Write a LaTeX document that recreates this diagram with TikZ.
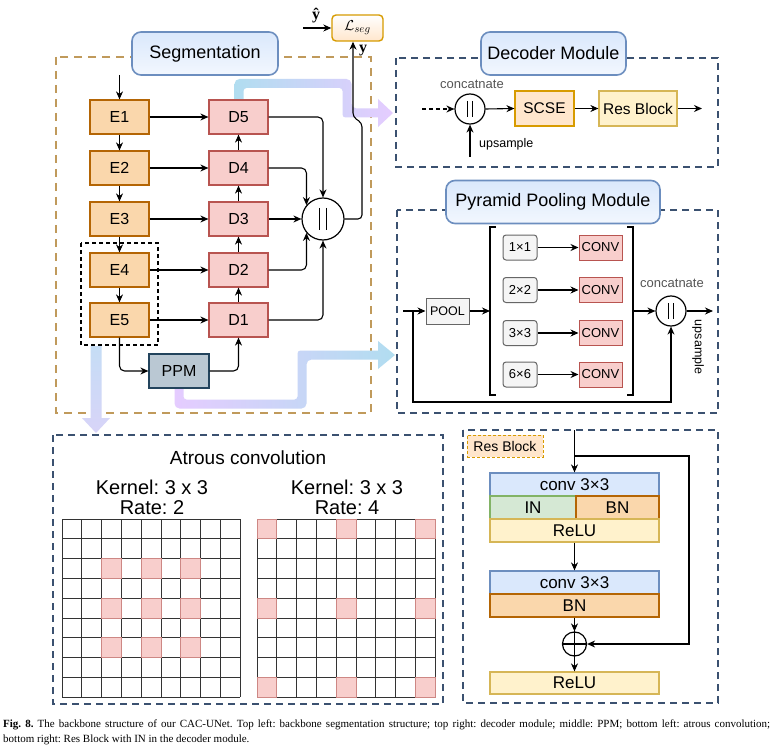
\documentclass[tikz,border=0pt]{standalone}
\usepackage{fontspec}
\setmainfont{Liberation Sans}
\newfontfamily\capfont{Liberation Serif}
\usetikzlibrary{arrows.meta,calc}
\definecolor{eFill}{HTML}{FAD7AC}
\definecolor{eDraw}{HTML}{B46504}
\definecolor{dFill}{HTML}{F8CECC}
\definecolor{dDraw}{HTML}{B85450}
\definecolor{pFill}{HTML}{BAC8D3}
\definecolor{pDraw}{HTML}{23445D}
\definecolor{tFill}{HTML}{DAE8FC}
\definecolor{tDraw}{HTML}{6C8EBF}
\definecolor{segDash}{HTML}{C09A5B}
\definecolor{modDash}{HTML}{3B5170}
\definecolor{gFill}{HTML}{F5F5F5}
\definecolor{gDraw}{HTML}{666666}
\definecolor{scFill}{HTML}{FFE6CC}
\definecolor{scDraw}{HTML}{D79B00}
\definecolor{yFill}{HTML}{FFF2CC}
\definecolor{yDraw}{HTML}{D6B656}
\definecolor{inFill}{HTML}{D5E8D4}
\definecolor{inDraw}{HTML}{82B366}
\definecolor{bandBlue}{HTML}{B1DDF0}
\definecolor{bandLav}{HTML}{E5CCFF}
\definecolor{bandTop}{HTML}{C5DDF5}
\definecolor{bandBot}{HTML}{D8D4F8}
\definecolor{lblGray}{HTML}{555555}
\definecolor{gridCol}{HTML}{333333}
\tikzset{
  arr/.style={-{Stealth[length=8pt,width=7pt]}, line width=1.1pt},
  segbox/.style={draw=eDraw, fill=eFill, line width=1.2pt, minimum width=59pt, minimum height=34pt, inner sep=0pt, font=\fontsize{16}{18}\selectfont},
  decbox/.style={segbox, draw=dDraw, fill=dFill},
  ppmbox/.style={segbox, draw=pDraw, fill=pFill, minimum width=60pt},
  titlebox/.style={draw=tDraw, line width=1.6pt, rounded corners=9pt, top color=tFill, bottom color=tFill!35, minimum height=43pt, inner sep=0pt, font=\fontsize{18}{20}\selectfont},
  catcirc/.style={circle, draw, line width=1.2pt, fill=white, inner sep=0pt},
  moddash/.style={draw=modDash, line width=1.8pt, dash pattern=on 7pt off 5pt},
  smallbox/.style={draw=gDraw, fill=gFill, line width=1pt, rounded corners=3pt, minimum width=34pt, minimum height=25pt, inner sep=0pt, font=\fontsize{13}{15}\selectfont},
  convbox/.style={draw=dDraw, fill=dFill, line width=1pt, minimum width=43pt, minimum height=25pt, inner sep=0pt, font=\fontsize{13}{15}\selectfont},
  lbl/.style={font=\fontsize{13}{15}\selectfont, text=lblGray, inner sep=0pt},
  rbox/.style={line width=1.2pt, minimum height=23pt, inner sep=0pt, font=\fontsize{17}{19}\selectfont},
  gridline/.style={draw=gridCol, line width=0.9pt},
  pinkcell/.style={fill=dFill, draw=dDraw!70, line width=0.8pt},
  bigtxt/.style={font=\fontsize{20}{22}\selectfont, inner sep=0pt},
  vlab/.style={inner sep=0pt, font=\capfont\bfseries\fontsize{16}{18}\selectfont}
}
\begin{document}
\frenchspacing
\begin{tikzpicture}[x=1pt,y=-1pt]
\useasboundingbox (0,0) rectangle (777,749);
\fill[white] (0,0) rectangle (777,749);

% ---------- dashed frames ----------
\draw[draw=segDash, line width=2pt, dash pattern=on 8pt off 6pt] (56,57) rectangle (371,413);
\draw[moddash] (396,58) rectangle (718,167);
\draw[moddash] (397,210) rectangle (718,413);
\draw[moddash] (53,435) rectangle (443,704);
\draw[moddash] (463,430) rectangle (718,703);

% ---------- gradient bands ----------
\shade[left color=bandBlue, right color=bandLav]
  (234.5,99) [rounded corners=5pt] -- (234.5,79) -- (351.5,79) -- (351.5,108.5) [sharp corners] -- (378,108.5) -- (378,99) -- (393,113) -- (378,127) -- (378,117.5) [rounded corners=3pt] -- (342.5,117.5) -- (342.5,88) -- (243.5,88) [sharp corners] -- (243.5,99) -- cycle;
\shade[left color=bandLav, right color=bandBlue]
  (174.5,388) [rounded corners=5pt] -- (174.5,408.5) -- (306.5,408.5) -- (306.5,359.5) [sharp corners] -- (378,359.5) -- (378,369) -- (395,355) -- (378,341) -- (378,350.5) [rounded corners=3pt] -- (297.5,350.5) -- (297.5,399.5) -- (183.5,399.5) [sharp corners] -- (183.5,388) -- cycle;
\shade[top color=bandTop, bottom color=bandBot]
  (90.5,346) -- (90.5,418) -- (82,418) -- (96,433) -- (110,418) -- (101.5,418) -- (101.5,346) -- cycle;

% ---------- titles ----------
\node[titlebox, minimum width=146pt] (tseg) at (205,53.5) {Segmentation};
\node[titlebox, minimum width=145pt] (tdec) at (553.5,53.5) {Decoder Module};
\node[titlebox, minimum width=214pt] (tppm) at (553,202) {Pyramid Pooling Module};

% ---------- segmentation ----------
\node[segbox] (E1) at (119.5,117) {E1};
\node[segbox] (E2) at (119.5,168) {E2};
\node[segbox] (E3) at (119.5,219) {E3};
\node[segbox] (E4) at (119.5,270) {E4};
\node[segbox] (E5) at (119.5,320) {E5};
\node[decbox] (D5) at (238.5,117) {D5};
\node[decbox] (D4) at (238.5,168) {D4};
\node[decbox] (D3) at (238.5,219) {D3};
\node[decbox] (D2) at (238.5,270) {D2};
\node[decbox] (D1) at (238.5,320) {D1};
\node[ppmbox] (ppm) at (179,371) {PPM};
\draw[black, line width=1.2pt, dash pattern=on 4pt off 3pt] (81,243) rectangle (158,345);

\coordinate (in0) at (119.5,75);
\draw[arr] (in0) -- (E1.north);
\draw[arr] (E1.south) -- (E2.north);
\draw[arr] (E2.south) -- (E3.north);
\draw[arr] (E3.south) -- (E4.north);
\draw[arr] (E4.south) -- (E5.north);
\draw[arr] (E1.east) -- (D5.west);
\draw[arr] (E2.east) -- (D4.west);
\draw[arr] (E3.east) -- (D3.west);
\draw[arr] (E4.east) -- (D2.west);
\draw[arr] (E5.east) -- (D1.west);
\draw[arr] (D1.north) -- (D2.south);
\draw[arr] (D2.north) -- (D3.south);
\draw[arr] (D3.north) -- (D4.south);
\draw[arr] (D4.north) -- (D5.south);
\draw[arr, rounded corners=5pt] (E5.south) |- (ppm.west);
\draw[arr, rounded corners=5pt] (ppm.east) -| (D1.south);

\node[catcirc, minimum size=42pt] (cat) at (323,219) {};
\draw[line width=1.3pt] ($(cat.center)+(-3.6,-11)$) -- ($(cat.center)+(-3.6,11)$);
\draw[line width=1.3pt] ($(cat.center)+(3.6,-11)$) -- ($(cat.center)+(3.6,11)$);
\draw[arr, rounded corners=5pt] (D5.east) -| (cat.north);
\draw[arr, rounded corners=5pt] (D4.east) -| (cat.140);
\draw[arr] (D3.east) -- (cat.west);
\draw[arr, rounded corners=5pt] (D2.east) -| (cat.220);
\draw[arr, rounded corners=5pt] (D1.east) -| (cat.south);

\node[draw=scDraw, line width=1.4pt, rounded corners=4pt, top color=white, bottom color=scFill, minimum width=51pt, minimum height=26pt, inner sep=0pt, font=\fontsize{15}{17}\selectfont] (Lseg) at (357.5,28) {$\mathcal{L}_{seg}$};
\coordinate (yhatin) at (303,28);
\draw[arr] (yhatin) -- (Lseg.west);
\node[vlab] (yhat) at (316,16) {ŷ};
\draw[arr, rounded corners=4pt] (cat.east) -- (362,219) -- (362,123) -- (353,117) -- ($(Lseg.south)+(-4.5,0)$);
\node[vlab] (ylab) at (363,51) {y};

% ---------- decoder module ----------
\node[catcirc, minimum size=30pt] (dcat) at (470,109) {};
\draw[line width=1.2pt] ($(dcat.center)+(-2.7,-8)$) -- ($(dcat.center)+(-2.7,8)$);
\draw[line width=1.2pt] ($(dcat.center)+(2.7,-8)$) -- ($(dcat.center)+(2.7,8)$);
\node[lbl] (dcatlbl) at (472,84) {concatnate};
\coordinate (dcin) at (422,109);
\draw[arr, dash pattern=on 4pt off 3pt] (dcin) -- (dcat.west);
\coordinate (dcup) at (470,157);
\draw[arr] (dcup) -- (dcat.south);
\node[inner sep=0pt, anchor=west, font=\fontsize{12.5}{14}\selectfont] (uplbl) at (479,144) {upsample};
\node[segbox, draw=scDraw, fill=scFill, minimum width=59pt, minimum height=35pt, font=\fontsize{15.5}{17}\selectfont] (scse) at (544.5,108.5) {SCSE};
\node[segbox, draw=yDraw, fill=yFill, minimum width=78pt, minimum height=35pt, font=\fontsize{15.5}{17}\selectfont] (res) at (638,108.5) {Res Block};
\coordinate (decout) at (702,108.5);
\draw[arr] (dcat.east) -- (scse.west);
\draw[arr] (scse.east) -- (res.west);
\draw[arr] (res.east) -- (decout);

% ---------- PPM ----------
\node[draw=gDraw, fill=gFill, line width=1pt, minimum width=43pt, minimum height=26pt, inner sep=0pt, font=\fontsize{12.5}{14}\selectfont] (pool) at (447.5,311) {POOL};
\coordinate (pin) at (403,311);
\coordinate (pfb) at (413,311);
\draw[arr] (pin) -- (pool.west);
\draw[line width=1.3pt] (496,227) -- (490,227) -- (490,395) -- (496,395);
\draw[line width=1.3pt] (627,227) -- (633,227) -- (633,395) -- (627,395);
\coordinate (brL) at (490,311);
\coordinate (brR) at (633,311);
\draw[arr] (pool.east) -- (brL);
\node[smallbox] (s1) at (520,247.5) {1×1};
\node[smallbox] (s2) at (520,290) {2×2};
\node[smallbox] (s3) at (520,333) {3×3};
\node[smallbox] (s6) at (520,374.5) {6×6};
\node[convbox] (c1) at (600.5,247.5) {CONV};
\node[convbox] (c2) at (600.5,290) {CONV};
\node[convbox] (c3) at (600.5,333) {CONV};
\node[convbox] (c6) at (600.5,374.5) {CONV};
\draw[arr] (s1.east) -- (c1.west);
\draw[arr] (s2.east) -- (c2.west);
\draw[arr] (s3.east) -- (c3.west);
\draw[arr] (s6.east) -- (c6.west);
\node[catcirc, minimum size=30pt] (pcat) at (671,311) {};
\draw[line width=1.2pt] ($(pcat.center)+(-2.7,-8)$) -- ($(pcat.center)+(-2.7,8)$);
\draw[line width=1.2pt] ($(pcat.center)+(2.7,-8)$) -- ($(pcat.center)+(2.7,8)$);
\draw[arr] (brR) -- (pcat.west);
\draw[arr] (pfb) -- (413,402) -| (pcat.south);
\coordinate (pout) at (713,311);
\draw[arr] (pcat.east) -- (pout);
\node[lbl] (pcatlbl) at (672,283) {concatnate};
\node[inner sep=0pt, rotate=-90, font=\fontsize{12.5}{14}\selectfont] (pup) at (698,347) {upsample};

% ---------- atrous convolution ----------
\node[inner sep=0pt, font=\fontsize{19}{21}\selectfont] (atitle) at (248,458) {Atrous convolution};
\node[bigtxt] (k1) at (152,487) {Kernel: 3 x 3};
\node[bigtxt] (r1) at (152,508) {Rate: 2};
\node[bigtxt] (k2) at (347,487) {Kernel: 3 x 3};
\node[bigtxt] (r2) at (347,508) {Rate: 4};
\foreach \i in {0,...,9} {
  \draw[gridline] ({62+\i*19.8},519) -- ({62+\i*19.8},697.2);
  \draw[gridline] (62,{519+\i*19.8}) -- (240.2,{519+\i*19.8});
  \draw[gridline] ({257+\i*19.8},519) -- ({257+\i*19.8},697.2);
  \draw[gridline] (257,{519+\i*19.8}) -- (435.2,{519+\i*19.8});
}
\foreach \r in {2,4,6} \foreach \c in {2,4,6}
  \draw[pinkcell] ({62+\c*19.8},{519+\r*19.8}) rectangle ++(19.8,19.8);
\foreach \r in {0,4,8} \foreach \c in {0,4,8}
  \draw[pinkcell] ({257+\c*19.8},{519+\r*19.8}) rectangle ++(19.8,19.8);

% ---------- Res block ----------
\node[draw=scDraw, fill=scFill, line width=1pt, dash pattern=on 3pt off 2pt, minimum width=76pt, minimum height=22pt, inner sep=0pt, font=\fontsize{14}{16}\selectfont] (rlab) at (505,446) {Res Block};
\node[rbox, draw=tDraw, fill=tFill, minimum width=169pt] (conv1) at (574.5,484.5) {conv 3×3};
\node[rbox, draw=inDraw, fill=inFill, minimum width=86pt] (in1) at (533,507.5) {IN};
\node[rbox, draw=eDraw, fill=eFill, minimum width=83pt] (bn1) at (617.5,507.5) {BN};
\node[rbox, draw=yDraw, fill=yFill, minimum width=169pt] (relu1) at (574.5,530.5) {ReLU};
\node[rbox, draw=tDraw, fill=tFill, minimum width=169pt] (conv2) at (574.5,582.5) {conv 3×3};
\node[rbox, draw=eDraw, fill=eFill, minimum width=169pt] (bn2) at (574.5,605.5) {BN};
\node[circle, draw, line width=1.2pt, minimum size=24pt, inner sep=0pt] (plus) at (574.5,644) {};
\draw[line width=1.2pt] (plus.north) -- (plus.south);
\draw[line width=1.2pt] (plus.west) -- (plus.east);
\node[rbox, draw=yDraw, fill=yFill, minimum width=169pt, minimum height=22pt] (relu2) at (574.5,683) {ReLU};
\coordinate (rtop) at (574.5,430);
\coordinate (rsplit) at (574.5,456);
\draw[arr] (rtop) -- (conv1.north);
\draw[arr] (rsplit) -- (689,456) -- (689,644) -- (plus.east);
\draw[arr] (relu1.south) -- (conv2.north);
\draw[arr] (bn2.south) -- (plus.north);
\draw[arr] (plus.south) -- (relu2.north);

% ---------- caption ----------
\node[anchor=north west, inner sep=0pt, text width=767pt, align=justify, font=\capfont\fontsize{11}{14.5}\selectfont] (cap) at (3,720)
{\textbf{Fig. 8.} The backbone structure of our CAC-UNet. Top left: backbone segmentation structure; top right: decoder module; middle: PPM; bottom left: atrous convolution;\linebreak bottom right: Res Block with IN in the decoder module.};
\end{tikzpicture}
\end{document}
